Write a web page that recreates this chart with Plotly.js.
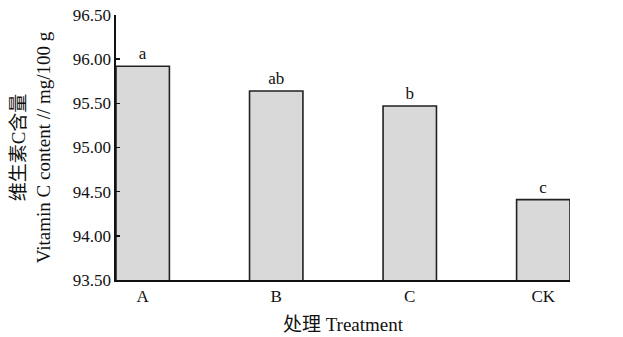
<!DOCTYPE html>
<html>
<head>
<meta charset="utf-8">
<script src="https://cdn.plot.ly/plotly-3.0.1.min.js"></script>
<style>html,body{margin:0;padding:0;background:#fff;}#chart{width:623px;height:337px;}</style>
</head>
<body>
<div id="chart"></div>
<script>
const categories = ["A", "B", "C", "CK"];
const vitaminC = [95.92, 95.64, 95.47, 94.41];
const letters = ["a", "ab", "b", "c"];
const tickValues = [93.5, 94.0, 94.5, 95.0, 95.5, 96.0, 96.5];
const tickLabels = ["93.50", "94.00", "94.50", "95.00", "95.50", "96.00", "96.50"];

const FONT = 'Liberation Serif, Noto Sans CJK SC, serif';

const trace = {
  type: 'bar',
  x: categories,
  y: vitaminC,
  width: 0.4,
  text: letters,
  textposition: 'outside',
  cliponaxis: false,
  textfont: {family: FONT, size: 17, color: '#111'},
  marker: {color: '#d9d9d9', line: {color: '#222', width: 1.6}},
  hoverinfo: 'none'
};

const layout = {
  width: 623, height: 337,
  margin: {l: 116, r: 53, t: 15, b: 57},
  paper_bgcolor: '#fff', plot_bgcolor: '#fff',
  showlegend: false,
  font: {family: FONT, size: 16, color: '#111'},
  xaxis: {
    type: 'category',
    range: [-0.2, 3.2],
    showline: true, linecolor: '#111', linewidth: 1.6,
    ticks: '', showgrid: false, zeroline: false,
    tickfont: {family: FONT, size: 17, color: '#111'},
    title: {text: '处理 Treatment', font: {family: FONT, size: 19, color: '#111'}, standoff: 12}
  },
  yaxis: {
    range: [93.5, 96.5],
    tickvals: tickValues, ticktext: tickLabels,
    showline: true, linecolor: '#111', linewidth: 1.6,
    ticks: 'inside', ticklen: 4, tickwidth: 1.4, tickcolor: '#111',
    showgrid: false, zeroline: false,
    tickfont: {family: FONT, size: 17, color: '#111'},
    title: {text: '维生素C含量<br>Vitamin C content // mg/100 g', font: {family: FONT, size: 19, color: '#111'}, standoff: 17}
  }
};

Plotly.newPlot('chart', [trace], layout, {displayModeBar: false, staticPlot: true});
</script>
</body>
</html>
